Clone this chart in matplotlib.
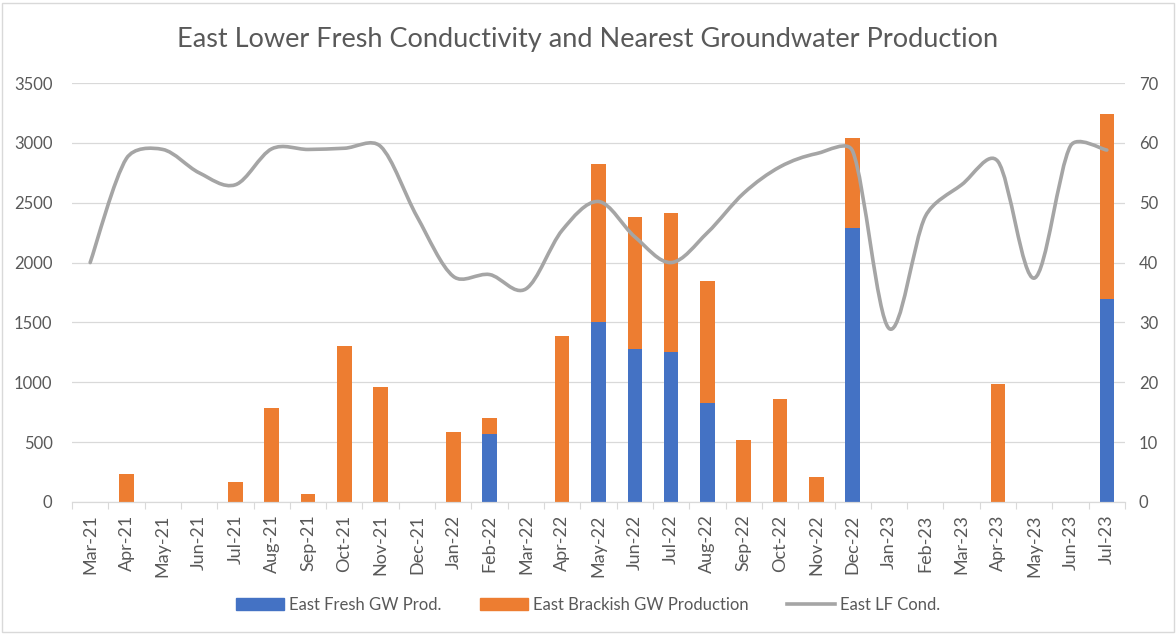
import numpy as np
import matplotlib.pyplot as plt
from matplotlib.path import Path
from matplotlib.patches import PathPatch, Rectangle
from matplotlib.lines import Line2D
from matplotlib.patches import Patch

# ==========================================
# Data
# ==========================================

months = ["Mar-21", "Apr-21", "May-21", "Jun-21", "Jul-21", "Aug-21", "Sep-21",
          "Oct-21", "Nov-21", "Dec-21", "Jan-22", "Feb-22", "Mar-22", "Apr-22",
          "May-22", "Jun-22", "Jul-22", "Aug-22", "Sep-22", "Oct-22", "Nov-22",
          "Dec-22", "Jan-23", "Feb-23", "Mar-23", "Apr-23", "May-23", "Jun-23",
          "Jul-23"]

fresh_prod = [0, 0, 0, 0, 0, 0, 0,
              0, 0, 0, 0, 570, 0, 0,
              1505, 1280, 1255, 825, 0, 0, 0,
              2285, 0, 0, 0, 0, 0, 0,
              1695]

brackish_prod = [0, 232, 0, 0, 166, 782, 70,
                 1305, 957, 0, 582, 135, 0, 1387,
                 1315, 1100, 1163, 1020, 514, 862, 207,
                 752, 0, 0, 0, 985, 0, 0,
                 1543]

lf_cond = [40.0, 57.4, 58.9, 55.0, 53.0, 59.0, 58.9,
           59.1, 59.4, 47.7, 37.7, 38.0, 35.6, 45.4,
           50.2, 44.3, 40.0, 45.0, 51.6, 56.0, 58.2,
           58.6, 29.0, 47.7, 53.0, 56.9, 37.4, 59.5,
           58.8]

# ==========================================
# Style
# ==========================================

blue = "#4472C4"
orange = "#ED7D31"
gray_line = "#A5A5A5"
text_gray = "#595959"
grid_gray = "#D9D9D9"

plt.rcParams["font.family"] = ["Lato", "DejaVu Sans"]

W, H = 1176, 635
ax_rect = [72 / W, 1 - 502 / H, (1125 - 72) / W, (502 - 83) / H]

fig = plt.figure(figsize=(W / 100, H / 100), dpi=100)
ax = fig.add_axes(ax_rect)
ax2 = ax.twinx()

x = np.arange(len(months))

ax.bar(x, fresh_prod, width=0.4, color=blue, zorder=2)
ax.bar(x, brackish_prod, width=0.4, bottom=fresh_prod, color=orange, zorder=2)

# ==========================================
# Smoothed line (Excel-like), Bezier in pixel space
# ==========================================

sx = (1125 - 72) / len(months)   # px per category
sy = (502 - 83) / 70.0           # px per unit on right axis
pts = np.column_stack([x * sx, np.array(lf_cond) * sy]).astype(float)

n = len(pts)
verts = [pts[0]]
codes = [Path.MOVETO]
for i in range(n - 1):
    p0 = pts[i - 1] if i > 0 else pts[i]
    p1 = pts[i]
    p2 = pts[i + 1]
    p3 = pts[i + 2] if i + 2 < n else pts[i + 1]
    chord = np.linalg.norm(p2 - p1)
    h1 = (p2 - p0) / 6.0
    h2 = (p3 - p1) / 6.0
    lim = 0.36 * chord
    if np.linalg.norm(h1) > lim:
        h1 = h1 * lim / np.linalg.norm(h1)
    if np.linalg.norm(h2) > lim:
        h2 = h2 * lim / np.linalg.norm(h2)
    verts += [p1 + h1, p2 - h2, p2]
    codes += [Path.CURVE4] * 3

verts = np.array(verts)
verts[:, 0] /= sx
verts[:, 1] /= sy
ax2.add_patch(PathPatch(Path(verts, codes), facecolor="none", edgecolor=gray_line,
                        linewidth=2.6, capstyle="round", joinstyle="round", zorder=3))

# ==========================================
# Axes
# ==========================================

ax.set_xlim(-0.5, len(months) - 0.5)
ax.set_ylim(0, 3500)
ax2.set_ylim(0, 70)
ax.set_yticks(np.arange(0, 3501, 500))
ax2.set_yticks(np.arange(0, 71, 10))

ax.yaxis.grid(True, color=grid_gray, linewidth=0.9, zorder=0)
ax.set_axisbelow(True)

for a in (ax, ax2):
    for side in ("top", "left", "right"):
        a.spines[side].set_visible(False)
    a.spines["bottom"].set_color(grid_gray)
    a.tick_params(axis="y", length=0, labelcolor=text_gray, labelsize=12)

ax.tick_params(axis="y", pad=14)
ax2.tick_params(axis="y", pad=10)

ax.set_xticks(np.arange(-0.5, len(months), 1.0))
ax.set_xticklabels([])
ax.tick_params(axis="x", which="major", length=5, color=grid_gray)
ax.set_xticks(x, minor=True)
ax.set_xticklabels(months, minor=True, rotation=90)
ax.tick_params(axis="x", which="minor", length=0, labelcolor=text_gray,
               labelsize=13, pad=9)

fig.text(0.5, 1 - 40 / H,
         "East Lower Fresh Conductivity and Nearest Groundwater Production",
         ha="center", va="center", fontsize=19.5, color=text_gray)

handles = [Patch(color=blue, label="East Fresh GW Prod."),
           Patch(color=orange, label="East Brackish GW Production"),
           Line2D([0], [0], color=gray_line, linewidth=2.6, label="East LF Cond.")]
fig.legend(handles=handles, loc="center", bbox_to_anchor=(0.5, 1 - 605 / H), ncol=3,
           frameon=False, fontsize=12, labelcolor=text_gray,
           handlelength=2.9, handleheight=0.75, columnspacing=2.3, handletextpad=0.3)

fig.add_artist(Rectangle((0.002, 0.004), 0.996, 0.992, transform=fig.transFigure,
                         fill=False, edgecolor="#D9D9D9", linewidth=1))

fig.savefig("out.png", dpi=100)
